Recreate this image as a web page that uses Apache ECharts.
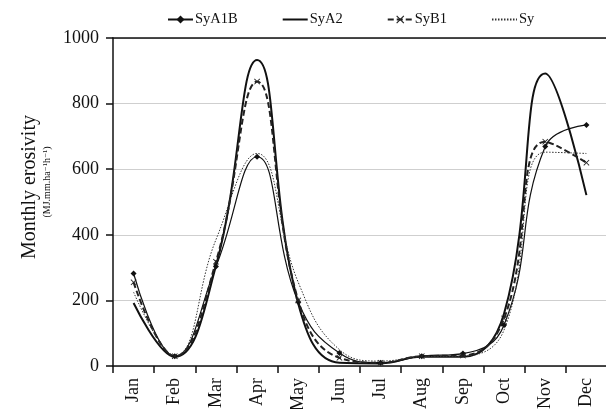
<!DOCTYPE html>
<html>
<head>
<meta charset="utf-8">
<script src="https://cdn.jsdelivr.net/npm/echarts@6/dist/echarts.min.js"></script>
<style>
  html, body { margin: 0; padding: 0; background: #fff; }
  #chart { width: 606px; height: 409px; }
</style>
</head>
<body>
<div id="chart"></div>
<script>
// months and monthly erosivity per scenario
const months = ['Jan', 'Feb', 'Mar', 'Apr', 'May', 'Jun', 'Jul', 'Aug', 'Sep', 'Oct', 'Nov', 'Dec']
const syA1B = [282, 30, 303, 638, 195, 40, 10, 30, 38, 125, 669, 735]
const syA2 = [192, 28, 305, 933, 190, 10, 8, 28, 28, 160, 892, 521]
const syB1 = [255, 30, 318, 867, 200, 25, 10, 30, 32, 145, 684, 620]
const sy = [225, 32, 385, 648, 255, 50, 15, 28, 30, 110, 652, 648]
const yTicks = [0, 200, 400, 600, 800, 1000]

const serif = '"Liberation Serif", "DejaVu Serif", serif'
const crossPath = 'path://M0,1 L1,0 L5,4 L9,0 L10,1 L6,5 L10,9 L9,10 L5,6 L1,10 L0,9 L4,5 Z'

const chart = echarts.init(document.getElementById('chart'))

const option = {
  animation: false,
  textStyle: { fontFamily: serif },
  legend: {
    top: 7,
    left: 162,
    itemWidth: 25,
    itemHeight: 10,
    itemGap: 44,
    textStyle: { fontFamily: serif, fontSize: 14.5, color: '#111', padding: [0, 0, 0, -3] },
    data: [
      { name: 'SyA1B' },
      { name: 'SyA2', itemStyle: { opacity: 0 } },
      { name: 'SyB1' },
      { name: 'Sy', itemStyle: { opacity: 0 } }
    ]
  },
  grid: { left: 113, top: 38, width: 494, height: 328, outerBoundsMode: 'none', containLabel: false },
  xAxis: [
    {
      type: 'category',
      data: months,
      boundaryGap: true,
      axisLine: { lineStyle: { color: '#111', width: 1.5 } },
      axisTick: { show: true, length: 7, lineStyle: { color: '#111', width: 1.5 } },
      axisLabel: { rotate: 90, fontFamily: serif, fontSize: 18, color: '#111', margin: 12 }
    },
    {
      type: 'category',
      position: 'top',
      data: months,
      axisLine: { show: true, lineStyle: { color: '#111', width: 1.5 } },
      axisTick: { show: false },
      axisLabel: { show: false }
    }
  ],
  yAxis: {
    type: 'value',
    min: yTicks[0],
    max: yTicks[yTicks.length - 1],
    interval: 200,
    axisLine: { show: true, lineStyle: { color: '#111', width: 1.5 } },
    axisTick: { show: true, length: 7, lineStyle: { color: '#111', width: 1.5 } },
    axisLabel: {
      fontFamily: serif, fontSize: 18, color: '#111', margin: 14,
      formatter: v => String(v)
    },
    splitLine: { lineStyle: { color: '#cfcfcf', width: 1 } }
  },
  graphic: [
    {
      type: 'text',
      x: 30,
      y: 187,
      rotation: Math.PI / 2,
      style: {
        text: 'Monthly erosivity',
        font: '20px ' + serif,
        fill: '#111',
        align: 'center',
        verticalAlign: 'middle'
      }
    },
    {
      type: 'text',
      x: 47,
      y: 182,
      rotation: Math.PI / 2,
      style: {
        text: '(MJ.mm.ha⁻¹h⁻¹)',
        font: '10px ' + serif,
        fill: '#111',
        align: 'center',
        verticalAlign: 'middle'
      }
    }
  ],
  series: [
    {
      name: 'SyA1B',
      type: 'line',
      data: syA1B,
      smooth: 0.45,
      symbol: 'diamond',
      symbolSize: 6,
      itemStyle: { color: '#111' },
      lineStyle: { color: '#111', width: 1.2 }
    },
    {
      name: 'SyA2',
      type: 'line',
      data: syA2,
      smooth: 0.45,
      symbol: 'none',
      itemStyle: { color: '#111' },
      lineStyle: { color: '#111', width: 2 }
    },
    {
      name: 'SyB1',
      type: 'line',
      data: syB1,
      smooth: 0.45,
      symbol: crossPath,
      symbolSize: 6,
      itemStyle: { color: '#222' },
      lineStyle: { color: '#222', width: 2, type: [6, 3] }
    },
    {
      name: 'Sy',
      type: 'line',
      data: sy,
      smooth: 0.45,
      symbol: 'none',
      itemStyle: { color: '#333' },
      lineStyle: { color: '#333', width: 1, type: [1.5, 1.5] }
    }
  ]
}

chart.setOption(option)
</script>
</body>
</html>
